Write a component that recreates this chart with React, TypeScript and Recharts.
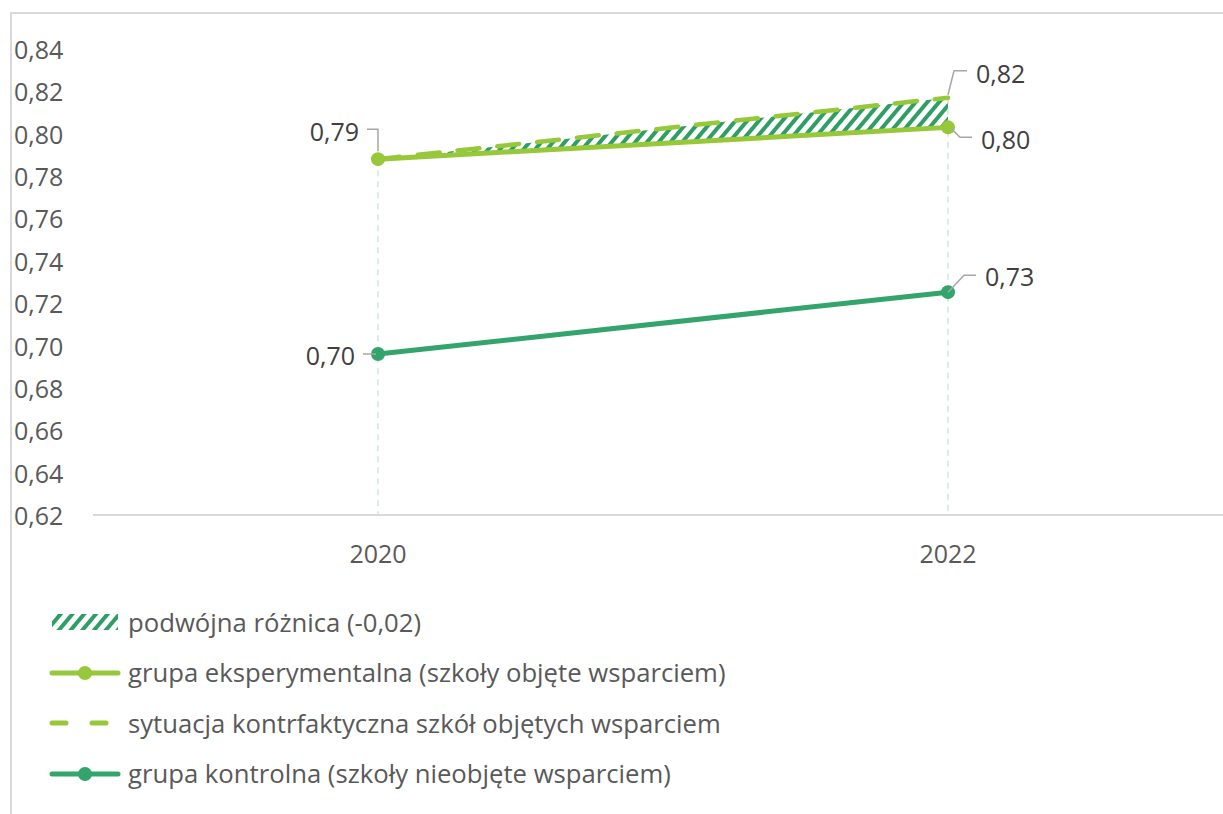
import React from 'react';
import { ComposedChart, Line, Area, XAxis, YAxis, LabelList, ReferenceLine } from 'recharts';

const years = ['2020', '2022'];
const experimental = [0.788, 0.803];
const counterfactual = [0.788, 0.817];
const control = [0.696, 0.7252];
const yTicks = [0.62, 0.64, 0.66, 0.68, 0.7, 0.72, 0.74, 0.76, 0.78, 0.8, 0.82, 0.84];

const diffName = 'podwójna różnica (-0,02)';
const expName = 'grupa eksperymentalna (szkoły objęte wsparciem)';
const cfName = 'sytuacja kontrfaktyczna szkół objętych wsparciem';
const ctrlName = 'grupa kontrolna (szkoły nieobjęte wsparciem)';

const data = years.map((year, i) => ({
  year,
  exp: experimental[i],
  cf: counterfactual[i],
  ctrl: control[i],
}));

const LIGHT = '#96C83A';
const DARK = '#33A46B';
const HATCH = '#2E9E64';
const TEXT = '#595959';
const LABEL = '#404040';
const LEADER = '#A6A6A6';
const FONT = '"Open Sans", Lato, sans-serif';
const FS = 25;

const fmt = (v: number) => v.toFixed(2).replace('.', ',');

// leader line + text placement, relative to the point
const leaders: Record<string, { path: string; tx: number; ty: number; anchor: 'start' | 'end' }> = {
  upLeft: { path: 'M0,-8 V-30 H-11', tx: -19, ty: -28, anchor: 'end' },
  upRight: { path: 'M0,-3 L6,-27 H19', tx: 28, ty: -25, anchor: 'start' },
  downRight: { path: 'M3,1 L12,10 H24', tx: 33, ty: 12, anchor: 'start' },
  upRightShort: { path: 'M0,0 L16,-17 H28', tx: 37, ty: -16, anchor: 'start' },
  left: { path: 'M-2,0 H-15', tx: -23, ty: 1, anchor: 'end' },
};

const makeLabel = (kinds: (string | null)[]) => (props: any) => {
  const { x, y, value, index } = props;
  const kind = kinds[index];
  if (!kind) return null;
  const l = leaders[kind];
  return (
    <g>
      <path d={l.path} transform={`translate(${x},${y})`} fill="none" stroke={LEADER} strokeWidth={1.5} />
      <text
        x={x + l.tx}
        y={y + l.ty}
        textAnchor={l.anchor}
        dominantBaseline="central"
        fill={LABEL}
        fontSize={FS}
        fontFamily={FONT}
      >
        {fmt(value)}
      </text>
    </g>
  );
};

const YTick = (props: any) => {
  const { y, payload } = props;
  return (
    <text x={14} y={y} dominantBaseline="central" fill={TEXT} fontSize={FS} fontFamily={FONT}>
      {fmt(payload.value)}
    </text>
  );
};

const XTick = (props: any) => {
  const { x, y, payload } = props;
  return (
    <text x={x} y={y} dy={30} textAnchor="middle" dominantBaseline="central" fill={TEXT} fontSize={FS} fontFamily={FONT}>
      {payload.value}
    </text>
  );
};

const LineIcon = ({ color, dashed, dot }: { color: string; dashed?: boolean; dot?: boolean }) => (
  <svg width={74} height={20}>
    <line
      x1={4}
      y1={10}
      x2={70}
      y2={10}
      stroke={color}
      strokeWidth={5}
      strokeLinecap="round"
      strokeDasharray={dashed ? '14 26' : undefined}
    />
    {dot && <circle cx={37} cy={10} r={7} fill={color} />}
  </svg>
);

const HatchIcon = () => (
  <svg width={74} height={20}>
    <defs>
      <pattern id="hatchLegend" patternUnits="userSpaceOnUse" width={9} height={9} patternTransform="rotate(40)">
        <rect x={0} y={0} width={4} height={9} fill={HATCH} />
      </pattern>
    </defs>
    <rect x={4} y={2} width={66} height={16} fill="url(#hatchLegend)" />
  </svg>
);

const legendRows = [
  { name: diffName, icon: <HatchIcon /> },
  { name: expName, icon: <LineIcon color={LIGHT} dot /> },
  { name: cfName, icon: <LineIcon color={LIGHT} dashed /> },
  { name: ctrlName, icon: <LineIcon color={DARK} dot /> },
];

const dropTop = years.map((_, i) => Math.max(experimental[i], counterfactual[i], control[i]));

export default function App() {
  return (
    <div
      style={{
        position: 'absolute',
        left: 0,
        top: 0,
        width: 1223,
        height: 814,
        overflow: 'hidden',
        background: '#fff',
        fontFamily: FONT,
      }}
    >
      <div
        style={{
          position: 'absolute',
          left: 10,
          top: 12,
          width: 1300,
          height: 900,
          borderTop: '2px solid #D9D9D9',
          borderLeft: '2px solid #D9D9D9',
        }}
      />
      <div style={{ position: 'absolute', left: 0, top: 0 }}>
        <ComposedChart width={1250} height={600} data={data} margin={{ top: 49, right: 17, bottom: 25, left: 10 }}>
          <defs>
            <pattern id="hatch" patternUnits="userSpaceOnUse" width={9} height={9} patternTransform="rotate(40)">
              <rect x={0} y={0} width={4} height={9} fill={HATCH} />
            </pattern>
          </defs>
          <XAxis
            dataKey="year"
            axisLine={{ stroke: '#D9D9D9', strokeWidth: 2 }}
            tickLine={false}
            tick={<XTick />}
            height={60}
            interval={0}
            padding={{ left: 285, right: 285 }}
          />
          <YAxis
            domain={[0.62, 0.84]}
            ticks={yTicks}
            axisLine={false}
            tickLine={false}
            tick={<YTick />}
            width={83}
            interval={0}
          />
          {years.map((yr, i) => (
            <ReferenceLine
              key={yr}
              segment={[
                { x: yr, y: dropTop[i] },
                { x: yr, y: 0.62 },
              ]}
              stroke="#CFE7E2"
              strokeWidth={1.5}
              strokeDasharray="6 5"
            />
          ))}
          <Area
            dataKey={(d: any) => [d.exp, d.cf]}
            stroke="none"
            fill="url(#hatch)"
            fillOpacity={1}
            isAnimationActive={false}
            activeDot={false}
          />
          <Line
            dataKey="cf"
            stroke={LIGHT}
            strokeWidth={4.5}
            strokeDasharray="22 18"
            strokeLinecap="round"
            dot={false}
            activeDot={false}
            isAnimationActive={false}
          >
            <LabelList content={makeLabel([null, 'upRight'])} />
          </Line>
          <Line
            dataKey="exp"
            stroke={LIGHT}
            strokeWidth={5}
            dot={{ r: 7, fill: LIGHT, stroke: LIGHT, strokeWidth: 0 }}
            activeDot={false}
            isAnimationActive={false}
          >
            <LabelList content={makeLabel(['upLeft', 'downRight'])} />
          </Line>
          <Line
            dataKey="ctrl"
            stroke={DARK}
            strokeWidth={5}
            dot={{ r: 7, fill: DARK, stroke: DARK, strokeWidth: 0 }}
            activeDot={false}
            isAnimationActive={false}
          >
            <LabelList content={makeLabel(['left', 'upRightShort'])} />
          </Line>
        </ComposedChart>
      </div>
      <div style={{ position: 'absolute', left: 48, top: 597 }}>
        {legendRows.map((r) => (
          <div key={r.name} style={{ display: 'flex', alignItems: 'center', height: 50.5 }}>
            <div style={{ width: 80, display: 'flex', alignItems: 'center' }}>{r.icon}</div>
            <span style={{ color: TEXT, fontSize: 25.7, whiteSpace: 'nowrap' }}>{r.name}</span>
          </div>
        ))}
      </div>
    </div>
  );
}
